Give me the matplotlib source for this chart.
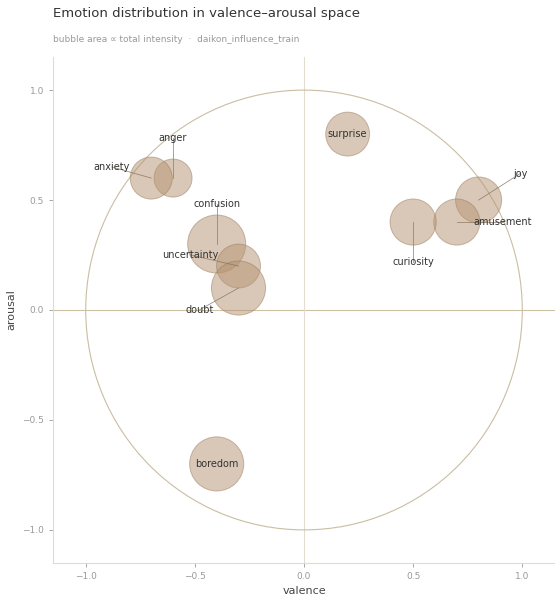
# Bubble chart of emotions placed in valence-arousal space
import matplotlib.pyplot as plt
from matplotlib.patches import Circle

# Emotion names and their position in valence-arousal space
emotions = ["anger", "anxiety", "confusion", "uncertainty", "doubt",
            "boredom", "surprise", "joy", "amusement", "curiosity"]
valence = [-0.6, -0.7, -0.4, -0.3, -0.3, -0.4, 0.2, 0.8, 0.7, 0.5]
arousal = [0.6, 0.6, 0.3, 0.2, 0.1, -0.7, 0.8, 0.5, 0.4, 0.4]

# Total intensity per emotion (bubble area is proportional to it)
intensity = [3.6, 4.4, 8.4, 4.8, 7.3, 7.3, 4.8, 5.3, 5.3, 5.3]

# Where each label sits (None = label in the middle of the bubble)
label_x = [-0.6, -0.88, -0.4, -0.52, -0.48, None, None, 0.99, 0.91, 0.5]
label_y = [0.78, 0.65, 0.48, 0.25, 0.0, None, None, 0.62, 0.4, 0.22]

ticks = [-1.0, -0.5, 0.0, 0.5, 1.0]

fig = plt.figure(figsize=(5.55, 5.95), dpi=100)
ax = fig.add_axes([0.0955, 0.054, 0.9045, 0.85])

# Reference lines and unit circle
ax.axhline(0, color="#cfc1a6", lw=0.8, zorder=1)
ax.axvline(0, color="#e3dccf", lw=0.8, zorder=1)
ax.add_patch(Circle((0, 0), 1.0, fill=False, edgecolor="#cbbda4", lw=0.8, zorder=1))

# Bubbles
sizes = [v * 208 for v in intensity]
ax.scatter(valence, arousal, s=sizes, color="#b59371", alpha=0.5,
           edgecolor="#9a7a5c", linewidth=0.7, zorder=2)

# Labels, with a thin leader line when they sit outside the bubble
for name, x, y, lx, ly in zip(emotions, valence, arousal, label_x, label_y):
    if lx is None:
        ax.text(x, y, name, ha="center", va="center", fontsize=7,
                color="#333333", zorder=4)
    else:
        ax.plot([lx, x], [ly, y], color="#8a7560", lw=0.6, alpha=0.8, zorder=3)
        ax.text(lx, ly, name, ha="center", va="center", fontsize=7,
                color="#333333", zorder=4)

ax.set_xlim(-1.15, 1.15)
ax.set_ylim(-1.15, 1.15)
ax.set_xticks(ticks)
ax.set_yticks(ticks)
ax.tick_params(labelsize=6.5, colors="#999999", length=3, width=0.6)

ax.spines["top"].set_visible(False)
ax.spines["right"].set_visible(False)
ax.spines["left"].set_color("#e0dbd2")
ax.spines["bottom"].set_color("#e0dbd2")

ax.set_xlabel("valence", fontsize=8, color="#444444", labelpad=4)
ax.set_ylabel("arousal", fontsize=8, color="#444444", labelpad=4)

# Title and subtitle
fig.text(0.0955, 0.978, "Emotion distribution in valence\u2013arousal space",
         fontsize=9.5, color="#333333", va="center")
fig.text(0.0955, 0.933, "bubble area \u221d total intensity  \u00b7  daikon_influence_train",
         fontsize=6.5, color="#999999", va="center")

plt.savefig("out.png", dpi=100)
